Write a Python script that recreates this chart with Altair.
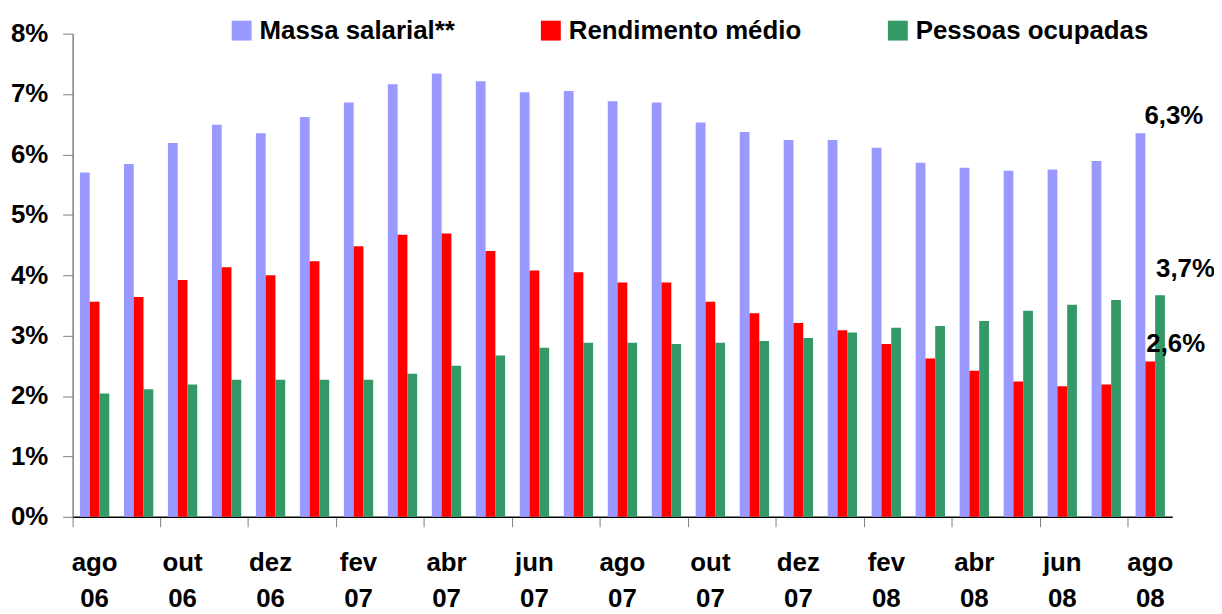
import altair as alt
import pandas as pd

months = ["ago 06", "set 06", "out 06", "nov 06", "dez 06", "jan 07", "fev 07",
          "mar 07", "abr 07", "mai 07", "jun 07", "jul 07", "ago 07", "set 07",
          "out 07", "nov 07", "dez 07", "jan 08", "fev 08", "mar 08", "abr 08",
          "mai 08", "jun 08", "jul 08", "ago 08"]
massa = [5.70, 5.84, 6.19, 6.49, 6.35, 6.62, 6.86, 7.16, 7.34, 7.21, 7.03, 7.05,
         6.88, 6.86, 6.53, 6.37, 6.24, 6.24, 6.11, 5.86, 5.78, 5.73, 5.75, 5.89, 6.35]
rendimento = [3.56, 3.64, 3.92, 4.13, 4.00, 4.23, 4.48, 4.67, 4.69, 4.40, 4.08, 4.05,
              3.88, 3.88, 3.56, 3.37, 3.21, 3.09, 2.86, 2.62, 2.42, 2.24, 2.16, 2.19, 2.57]
pessoas = [2.04, 2.11, 2.19, 2.27, 2.27, 2.27, 2.27, 2.37, 2.50, 2.67, 2.80, 2.88,
           2.88, 2.86, 2.88, 2.91, 2.96, 3.05, 3.13, 3.16, 3.24, 3.41, 3.51, 3.59, 3.67]
series = ["Massa salarial**", "Rendimento médio", "Pessoas ocupadas"]
colors = ["#9999FF", "#FF0000", "#339966"]
y_ticks = [0, 1, 2, 3, 4, 5, 6, 7, 8]
x_label_months = months[::2]
ann_month = "ago 08"
ann_texts = ["6,3%", "2,6%", "3,7%"]

rows = []
for i, m in enumerate(months):
    for s, vals in zip(series, [massa, rendimento, pessoas]):
        rows.append({"month": m, "series": s, "value": vals[i]})
df = pd.DataFrame(rows)

ann_rows = []
for s, t in zip(series, ann_texts):
    v = df[(df.month == ann_month) & (df.series == s)].value.iloc[0]
    ann_rows.append({"month": ann_month, "series": s, "value": v, "text": t})
df_ann = pd.DataFrame(ann_rows)

FONT = "Liberation Sans, Arial, sans-serif"
FS = 26

x_enc = alt.X(
    "month:N", sort=months,
    scale=alt.Scale(paddingInner=0, paddingOuter=0),
    axis=alt.Axis(
        title=None, values=x_label_months, bandPosition=0, labelAngle=0,
        labelExpr="split(datum.label, ' ')", labelFont=FONT, labelFontSize=FS,
        labelFontWeight="bold", labelColor="black", labelLineHeight=36,
        labelBaseline="alphabetic", labelPadding=44, tickSize=10,
        tickColor="#808080", domainColor="black", domainWidth=1.5,
        labelLimit=200, labelOverlap=False, grid=False,
    ),
)
xoff_enc = alt.XOffset("series:N", sort=series,
                       scale=alt.Scale(paddingInner=0, paddingOuter=0.75))
y_enc = alt.Y(
    "value:Q",
    scale=alt.Scale(domain=[0, 8], nice=False, zero=True),
    axis=alt.Axis(
        title=None, values=y_ticks, labelExpr="datum.value + '%'", grid=False,
        labelFont=FONT, labelFontSize=FS, labelFontWeight="bold",
        labelColor="black", labelPadding=15, tickSize=10, tickColor="#808080",
        domainColor="#808080", domainWidth=1.5,
    ),
)
color_enc = alt.Color(
    "series:N", sort=series,
    scale=alt.Scale(domain=series, range=colors),
    legend=alt.Legend(
        title=None, orient="none", direction="horizontal", legendX=157,
        legendY=-16, symbolType="square", symbolSize=400, symbolStrokeWidth=0,
        labelFont=FONT, labelFontSize=FS, labelFontWeight="bold",
        labelColor="black", columnPadding=83, labelOffset=5, padding=0,
        labelLimit=400,
    ),
)

bars = alt.Chart(df).mark_bar().encode(
    x=x_enc, xOffset=xoff_enc, y=y_enc, color=color_enc
)

layers = [bars]
for s, dx, dy in [(series[0], 4, -9), (series[1], -4, -10), (series[2], -4, -18)]:
    layers.append(
        alt.Chart(df_ann).transform_filter(alt.datum.series == s).mark_text(
            align="left", baseline="alphabetic", dx=dx, dy=dy, font=FONT,
            fontSize=FS, fontWeight="bold", color="black",
        ).encode(x=x_enc, xOffset=xoff_enc, y=y_enc, text="text:N")
    )

chart = alt.layer(*layers).properties(
    width=1106, height=486,
    autosize=alt.AutoSizeParams(type="none"),
    padding={"left": 65, "top": 24, "right": 42, "bottom": 96},
).configure_view(stroke=None)

chart.save("out.html", embed_options={"renderer": "svg", "actions": False})
